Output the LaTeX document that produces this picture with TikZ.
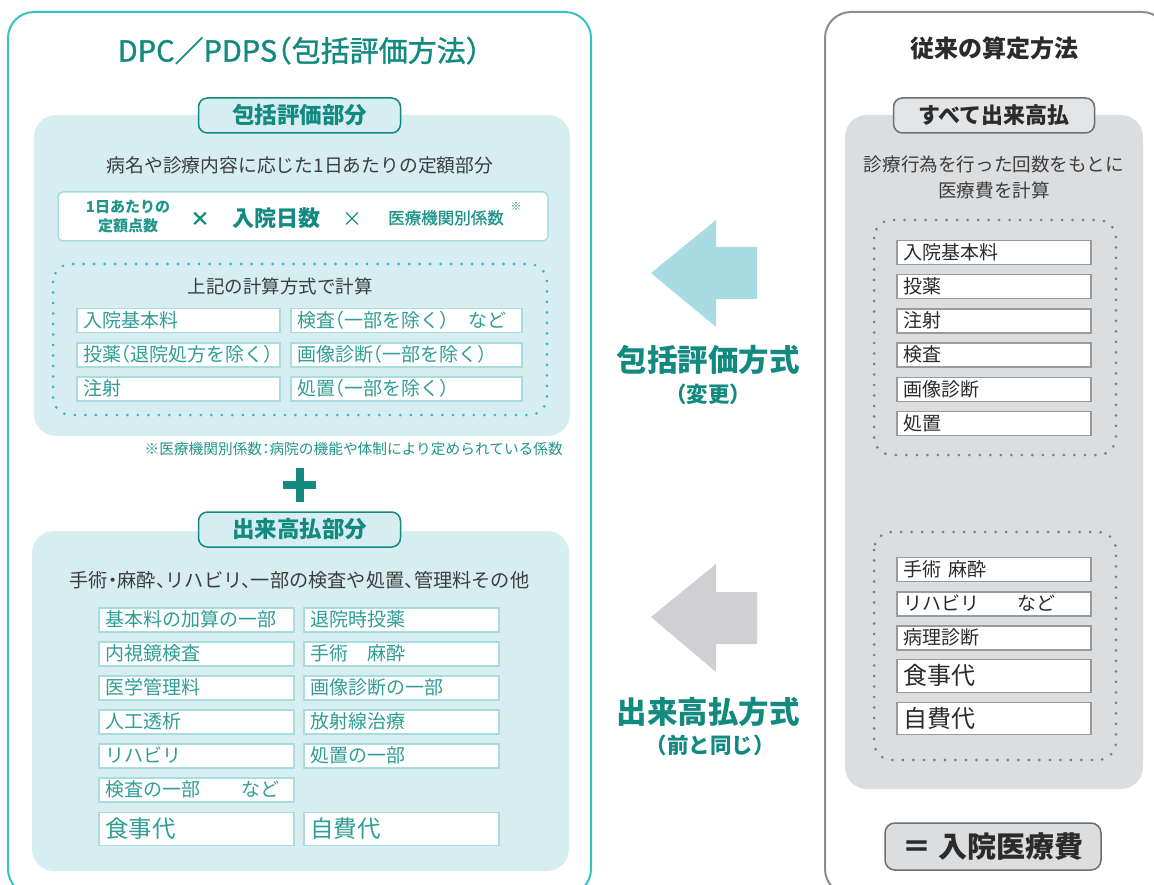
\documentclass[tikz,border=0pt]{standalone}
\usepackage{fontspec}
\setmainfont{Noto Sans CJK JP}[RawFeature=+halt]
\newcommand\fsz[1]{\fontsize{#1pt}{#1pt}\selectfont}
\definecolor{outerT}{HTML}{33C3C3}
\definecolor{darkT}{HTML}{138A80}
\definecolor{midT}{HTML}{1F958C}
\definecolor{panelT}{HTML}{D6EEF1}
\definecolor{itemB}{HTML}{A9DCDD}
\definecolor{itemT}{HTML}{2E9E96}
\definecolor{dotT}{HTML}{35B9BC}
\definecolor{bodyG}{HTML}{3D3D3D}
\definecolor{arrT}{HTML}{A9DCE2}
\definecolor{arrG}{HTML}{D0D0D2}
\definecolor{outerG}{HTML}{8C8C8C}
\definecolor{panelG}{HTML}{DCDDDF}
\definecolor{tabG}{HTML}{E3E4E6}
\definecolor{lineG}{HTML}{6E6E6E}
\definecolor{itemGB}{HTML}{9A9A9A}
\definecolor{textG}{HTML}{2B2B2B}
\definecolor{dotG}{HTML}{7F7F7F}
\begin{document}
\begin{tikzpicture}[x=1pt,y=-1pt,
 txt/.code={\pgfmathsetmacro\tmpH{0.83*#1}\pgfmathsetmacro\tmpD{0.1*#1}%
   \edef\tmpX{\noexpand\tikzset{inner sep=0pt,text height=\tmpH pt,text depth=\tmpD pt}}\tmpX
   \tikzset{font=\fsz{#1}}},
 txtb/.style={txt=#1, font=\fsz{#1}\bfseries},
 lbox/.style={txt=19, draw=itemB, line width=1.4pt, fill=white, text=itemT, inner xsep=6pt, align=left, minimum height=24pt},
 lboxL/.style={txt=23.5, draw=itemB, line width=1.4pt, fill=white, text=itemT, inner xsep=6pt, align=left, minimum height=33pt},
 rbox/.style={txt=19, draw=itemGB, line width=1.4pt, fill=white, text=textG, inner xsep=6pt, align=left, minimum height=24pt, text width=182pt},
 rboxL/.style={txt=24, draw=itemGB, line width=1.4pt, fill=white, text=textG, inner xsep=6pt, align=left, minimum height=32.5pt, text width=182pt},
 tabL/.style={txtb=22.5, draw=darkT, line width=1.5pt, fill=panelT, text=darkT, rounded corners=9pt, minimum width=202pt, minimum height=35pt},
 tabR/.style={txtb=22, draw=lineG, line width=1.5pt, fill=tabG, text=textG, rounded corners=9pt, minimum width=201pt, minimum height=35pt},
 dotl/.style={line width=3pt, dash pattern=on 0pt off 10.5pt, line cap=round, rounded corners=18pt},
]
\useasboundingbox (0,0) rectangle (1154,885);
\clip (0,0) rectangle (1154,885);
\fill[white] (0,0) rectangle (1154,885);

% ================= LEFT =================
\draw[outerT, line width=2pt, rounded corners=26pt] (8,12) rectangle (591,895);
\node[txt=29, text=darkT, font=\fsz{29}\addfontfeatures{FakeBold=1.3}] (title) at (299,51) {DPC／PDPS（包括評価方法）};

\fill[panelT, rounded corners=22pt] (34,115) rectangle (570,436);
\node[tabL] (tab1) at (299.5,115.5) {包括評価部分};
\node[txt=18.8, text=bodyG] (intro1) at (300,166) {病名や診療内容に応じた1日あたりの定額部分};

\draw[itemB, fill=white, line width=1.5pt, rounded corners=5pt] (58,192) rectangle (548,241);
\node[txtb=15, text=midT] (f1a) at (128,207) {1日あたりの};
\node[txtb=15, text=midT] (f1b) at (128,226) {定額点数};
\node[txtb=20, text=darkT] (x1) at (200,219) {×};
\node[txtb=22, text=darkT] (days) at (276,218) {入院日数};
\node[txt=20, text=darkT] (x2) at (352,219) {×};
\node[txt=16.5, text=midT, font=\fsz{16.5}\addfontfeatures{FakeBold=0.8}] (coef) at (446,218) {医療機関別係数};
\node[txt=11, text=midT] (mark) at (516,206) {※};

\draw[dotT, dotl] (53,264) rectangle (547,415);
\node[txt=18.5, text=bodyG] (calc) at (280,287) {上記の計算方式で計算};

\node[lbox, text width=191pt] (p1a) at (178.5,320.5) {入院基本料};
\node[lbox, text width=191pt] (p1b) at (178.5,355) {投薬（退院処方を除く）};
\node[lbox, text width=191pt] (p1c) at (178.5,389) {注射};
\node[lbox, text width=219pt] (p1d) at (406.5,320.5) {検査（一部を除く）\kern1em など};
\node[lbox, text width=219pt] (p1e) at (406.5,355) {画像診断（一部を除く）};
\node[lbox, text width=219pt] (p1f) at (406.5,389) {処置（一部を除く）};

\node[txt=14.7, text=midT, anchor=east] (foot) at (563,449) {※医療機関別係数：病院の機能や体制により定められている係数};

\draw[darkT, line width=8pt] (283,485) -- (316,485);
\draw[darkT, line width=8pt] (299.5,468) -- (299.5,502);

\fill[panelT, rounded corners=22pt] (32,531) rectangle (569,871);
\node[tabL] (tab2) at (299.5,529.5) {出来高払部分};
\node[txt=19.2, text=bodyG] (intro2) at (299.5,580) {手術・麻酔、リハビリ、一部の検査や処置、管理料その他};

\node[lbox, text width=183pt] (q1) at (196.5,620) {基本料の加算の一部};
\node[lbox, text width=183pt] (q2) at (196.5,654) {内視鏡検査};
\node[lbox, text width=183pt] (q3) at (196.5,688) {医学管理料};
\node[lbox, text width=183pt] (q4) at (196.5,722) {人工透析};
\node[lbox, text width=183pt] (q5) at (196.5,756) {リハビリ};
\node[lbox, text width=183pt] (q6) at (196.5,790) {検査の一部\kern2.2emなど};
\node[lboxL, text width=183pt] (q7) at (196.5,829) {食事代};
\node[lbox, text width=183pt] (r1) at (401.5,620) {退院時投薬};
\node[lbox, text width=183pt] (r2) at (401.5,654) {手術　麻酔};
\node[lbox, text width=183pt] (r3) at (401.5,688) {画像診断の一部};
\node[lbox, text width=183pt] (r4) at (401.5,722) {放射線治療};
\node[lbox, text width=183pt] (r5) at (401.5,756) {処置の一部};
\node[lboxL, text width=183pt] (r7) at (401.5,829) {自費代};

% ================= MIDDLE =================
\fill[arrT] (651,273) -- (716,220) -- (716,247) -- (757,247) -- (757,299) -- (716,299) -- (716,327) -- cycle;
\node[txtb=30.5, text=darkT] (m1) at (708,360) {包括評価方式};
\node[txtb=21.5, text=darkT] (m1b) at (708,395) {（変更）};

\fill[arrG] (651,617) -- (716,564) -- (716,592) -- (757,592) -- (757,644) -- (716,644) -- (716,672) -- cycle;
\node[txtb=30.5, text=darkT] (m2) at (708,712) {出来高払方式};
\node[txtb=21.5, text=darkT] (m2b) at (710,746) {（前と同じ）};

% ================= RIGHT =================
\draw[outerG, line width=2pt, rounded corners=26pt] (825,12) rectangle (1168,895);
\node[txtb=24, text=textG] (rtitle) at (994,49) {従来の算定方法};

\fill[panelG, rounded corners=22pt] (845,115) rectangle (1143,789);
\node[tabR] (tab3) at (994,115.5) {すべて出来高払};
\node[txt=18.6, text=bodyG] (ri1) at (994,164.5) {診療行為を行った回数をもとに};
\node[txt=18.6, text=bodyG] (ri2) at (994,190.5) {医療費を計算};

\draw[dotG, dotl] (874,220) rectangle (1116,455);
\node[rbox] (s1) at (994,252.5) {入院基本料};
\node[rbox] (s2) at (994,286.5) {投薬};
\node[rbox] (s3) at (994,321) {注射};
\node[rbox] (s4) at (994,355) {検査};
\node[rbox] (s5) at (994,389.5) {画像診断};
\node[rbox] (s6) at (994,423.5) {処置};

\draw[dotG, dotl] (874,532) rectangle (1116,760);
\node[rbox] (t1) at (994,569.5) {手術\kern0.4em麻酔};
\node[rbox] (t2) at (994,604) {リハビリ\kern2emなど};
\node[rbox] (t3) at (994,638) {病理診断};
\node[rboxL] (t4) at (994,676) {食事代};
\node[rboxL] (t5) at (994,718.5) {自費代};

\node[txtb=29, draw=lineG, line width=1.5pt, fill=panelG, text=textG, rounded corners=10pt, minimum width=216pt, minimum height=47pt] (total) at (993,846.5) {＝\kern0.25em入院医療費};
\end{tikzpicture}
\end{document}
